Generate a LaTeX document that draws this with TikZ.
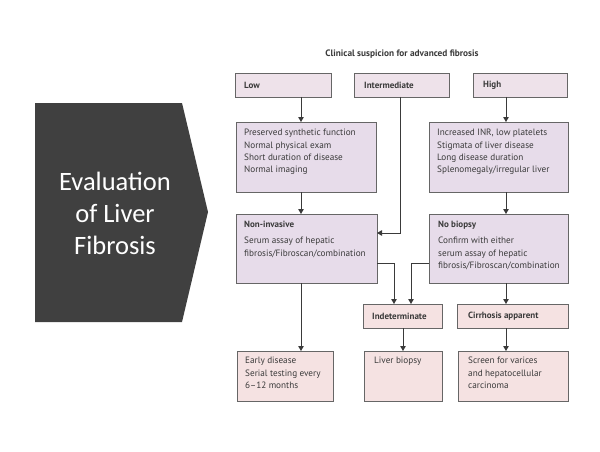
\documentclass[tikz,border=0pt]{standalone}
\usepackage{fontspec}
\setmainfont{PT Sans}
\newfontfamily\chevfont{Carlito}
\usetikzlibrary{arrows.meta}
\definecolor{lav}{HTML}{E7DCEA}
\definecolor{pinkb}{HTML}{F5E2E2}
\definecolor{topb}{HTML}{EEE2EA}
\definecolor{edge}{HTML}{666666}
\definecolor{chev}{HTML}{404040}
\definecolor{txt}{HTML}{3A3A3A}
\tikzset{
  box/.style={draw=edge, line width=0.9pt, inner sep=0pt, outer sep=0pt},
  lavbox/.style={box, fill=lav},
  pinkbox/.style={box, fill=pinkb},
  topbox/.style={box, fill=topb},
  lbl/.style={anchor=north west, inner sep=0pt, align=left, text=txt, font=\fontsize{9.2}{12.3}\selectfont},
  hd/.style={lbl, font=\fontsize{9.0}{12.3}\selectfont\bfseries},
  conn/.style={draw=txt, line width=0.9pt, -{Triangle[length=5pt,width=5.5pt]}},
}
\begin{document}
\begin{tikzpicture}[x=1pt,y=-1pt]
\useasboundingbox (0,0) rectangle (600,452);
\fill[white] (0,0) rectangle (600,452);
% chevron
\fill[chev] (35,103) -- (182,103) -- (208,212) -- (182,322) -- (35,322) -- cycle;
\node[text=white, align=center, font=\chevfont\fontsize{26.5}{32}\selectfont] (chevtext) at (115,213) {Evaluation\\of Liver\\Fibrosis};
% title
\node[text=txt, font=\fontsize{9.3}{10}\selectfont\bfseries] (title) at (402,54) {Clinical suspicion for advanced fibrosis};
% boxes
\node[topbox, minimum width=96, minimum height=24] (low) at (283,85) {};
\node[topbox, minimum width=95, minimum height=24] (inter) at (401.5,85) {};
\node[topbox, minimum width=94, minimum height=24] (high) at (520,85) {};
\node[lavbox, minimum width=140, minimum height=70] (lowf) at (306,157) {};
\node[lavbox, minimum width=139, minimum height=70] (highf) at (498.5,157) {};
\node[lavbox, minimum width=141, minimum height=69] (noninv) at (306.5,248.5) {};
\node[lavbox, minimum width=139, minimum height=69] (nobio) at (498.5,248.5) {};
\node[pinkbox, minimum width=79, minimum height=24] (indet) at (402.5,316) {};
\node[pinkbox, minimum width=111, minimum height=24] (cirr) at (512.5,316) {};
\node[pinkbox, minimum width=96, minimum height=50] (early) at (285,376) {};
\node[pinkbox, minimum width=78, minimum height=50] (liver) at (403,376) {};
\node[pinkbox, minimum width=110, minimum height=50] (screen) at (513,376) {};
% texts
\node[hd, anchor=west] (lowt) at (244,85) {Low};
\node[hd, anchor=west] (intert) at (364,85) {Intermediate};
\node[hd, anchor=west] (hight) at (483,85) {High};
\node[lbl] (lowft) at (244,129) {Preserved synthetic function\\Normal physical exam\\Short duration of disease\\Normal imaging};
\node[lbl] (highft) at (437,129) {Increased INR, low platelets\\Stigmata of liver disease\\Long disease duration\\Splenomegaly/irregular liver};
\node[hd] (noninvh) at (244,221) {Non-invasive};
\node[lbl] (noninvt) at (244,237) {Serum assay of hepatic\\fibrosis/Fibroscan/combination};
\node[hd] (nobioh) at (438,221) {No biopsy};
\node[lbl] (nobiot) at (438,237) {Confirm with either\\serum assay of hepatic\\fibrosis/Fibroscan/combination};
\node[hd, anchor=west] (indett) at (372,316) {Indeterminate};
\node[hd, anchor=west] (cirrt) at (468,316) {Cirrhosis apparent};
\node[lbl] (earlyt) at (245,357) {Early disease\\Serial testing every\\6--12 months};
\node[lbl] (livert) at (374,357) {Liver biopsy};
\node[lbl] (screent) at (468,357) {Screen for varices\\and hepatocellular\\carcinoma};
% connectors
\coordinate (lowx) at (301,0);
\coordinate (highx) at (506,0);
\draw[conn] (low.south -| lowx) -- (lowf.north -| lowx);
\draw[conn] (lowf.south -| lowx) -- (noninv.north -| lowx);
\draw[conn] (noninv.south -| lowx) -- (early.north -| lowx);
\draw[conn] (high.south -| highx) -- (highf.north -| highx);
\draw[conn] (highf.south -| highx) -- (nobio.north -| highx);
\draw[conn] (nobio.south -| highx) -- (cirr.north -| highx);
\draw[conn] (cirr.south -| highx) -- (screen.north -| highx);
\coordinate (interx) at (400,233);
\draw[conn] (inter.south -| interx) -- (interx) -- (interx -| noninv.east);
\coordinate (j1) at (394,263);
\draw[conn] (j1 -| noninv.east) -- (j1) -- (j1 |- indet.north);
\coordinate (j2) at (411,263);
\draw[conn] (j2 -| nobio.west) -- (j2) -- (j2 |- indet.north);
\coordinate (ix) at (403,0);
\draw[conn] (indet.south -| ix) -- (liver.north -| ix);
\end{tikzpicture}
\end{document}
